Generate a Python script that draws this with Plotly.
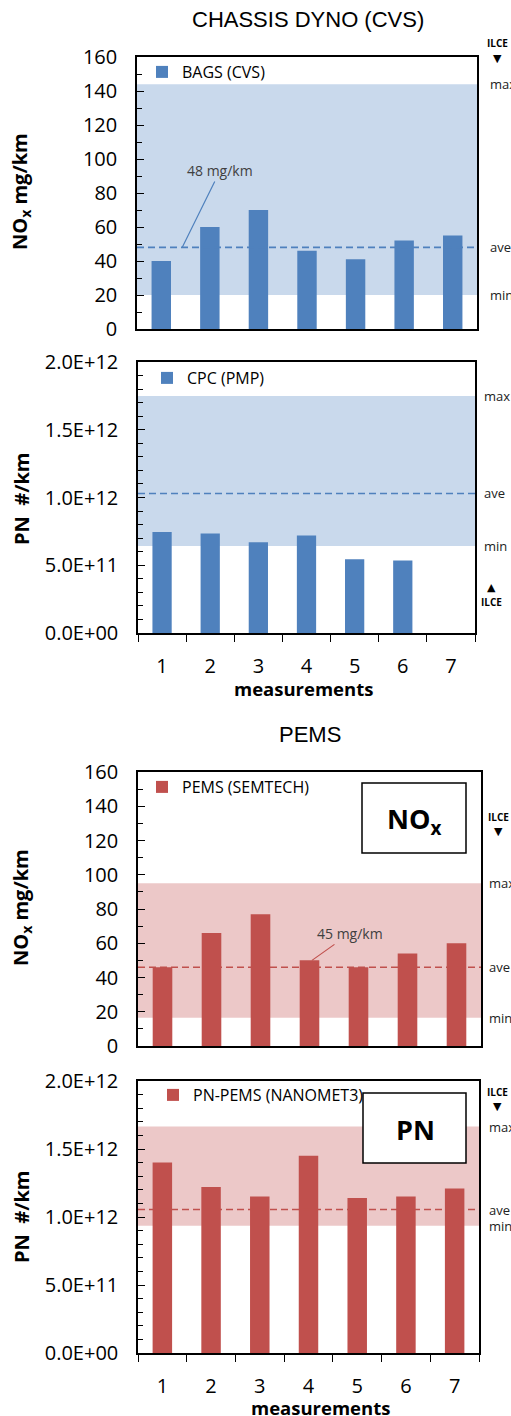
import plotly.graph_objects as go

W, H = 511, 1416

measurements = [1, 2, 3, 4, 5, 6, 7]
x_labels = ["1", "2", "3", "4", "5", "6", "7"]

nox_cvs = [40, 60, 70, 46, 41, 52, 55]
pn_cvs = [7.45e11, 7.35e11, 6.7e11, 7.2e11, 5.45e11, 5.35e11, None]
nox_pems = [46, 66, 77, 50, 46, 54, 60]
pn_pems = [1.40e12, 1.22e12, 1.15e12, 1.45e12, 1.14e12, 1.15e12, 1.21e12]

# ILCE range (min, ave, max)
nox_cvs_band = [20, 48, 144]
pn_cvs_band = [6.42e11, 1.03e12, 1.75e12]
nox_pems_band = [16.5, 46, 95]
pn_pems_band = [9.35e11, 1.055e12, 1.665e12]

pn_tickvals = [0, 5e11, 1e12, 1.5e12, 2e12]
pn_ticktext = ["0.0E+00", "5.0E+11", "1.0E+12", "1.5E+12", "2.0E+12"]
nox_tickvals = [0, 20, 40, 60, 80, 100, 120, 140, 160]

blue_bar = "#4F81BD"
blue_band = "#C9D9EC"
red_bar = "#C0504D"
red_band = "#ECC8C8"
FONT = "Open Sans"

def px(v):
    return v / W

def py(v):
    return 1 - v / H

# plot areas in pixels: (x0, x1, ytop, ybottom)
areas = [
    (137, 477, 57, 329),
    (138, 475, 362, 633),
    (138, 481, 772, 1046),
    (138, 479, 1081, 1353),
]

fig = go.Figure()

series = [
    (nox_cvs, "BAGS (CVS)", blue_bar),
    (pn_cvs, "CPC (PMP)", blue_bar),
    (nox_pems, "PEMS (SEMTECH)", red_bar),
    (pn_pems, "PN-PEMS (NANOMET3)", red_bar),
]
legend_pos = [(166, 72), (171, 378), (166, 787), (177, 1095)]

for i, (vals, name, col) in enumerate(series):
    n = "" if i == 0 else str(i + 1)
    fig.add_trace(go.Bar(
        x=measurements, y=vals, name=name, marker=dict(color=col, line=dict(width=0)),
        xaxis="x" + n, yaxis="y" + n, legend="legend" + n, showlegend=True,
    ))

layout = dict(
    width=W, height=H, margin=dict(l=0, r=0, t=0, b=0, autoexpand=False),
    paper_bgcolor="white", plot_bgcolor="rgba(0,0,0,0)",
    bargap=0.6, font=dict(family=FONT, color="black"),
)

ranges = [[0, 160], [0, 2e12], [0, 160], [0, 2e12]]
for i, (x0, x1, yt, yb) in enumerate(areas):
    n = "" if i == 0 else str(i + 1)
    show_x = i in (1, 3)
    xa = dict(
        domain=[px(x0), px(x1)], anchor="y" + n, range=[0.5, 7.5],
        tickmode="array", tickvals=measurements,
        ticktext=x_labels if show_x else [""] * 7,
        showticklabels=show_x, ticks="", showgrid=False, zeroline=False,
        showline=True, mirror=True, linecolor="black", linewidth=1.5,
        tickfont=dict(size=20, family=FONT), ticklabelstandoff=14,
    )
    if show_x:
        xa["minor"] = dict(tickmode="array", tickvals=[0.5 + k for k in range(8)],
                           ticks="outside", ticklen=7, tickcolor="black", tickwidth=1.2)
    layout["xaxis" + n] = xa
    if i in (0, 2):
        ya = dict(tickmode="array", tickvals=nox_tickvals,
                  minor=dict(dtick=10, ticks="inside", ticklen=5, tickcolor="black", tickwidth=1))
    else:
        ya = dict(tickmode="array", tickvals=pn_tickvals, ticktext=pn_ticktext,
                  minor=dict(dtick=1e11, ticks="inside", ticklen=5, tickcolor="black", tickwidth=1))
    ya.update(dict(
        domain=[py(yb), py(yt)], anchor="x" + n, range=ranges[i],
        ticks="inside", ticklen=7, tickcolor="black", tickwidth=1,
        showgrid=False, zeroline=False, showline=True, mirror=True,
        linecolor="black", linewidth=1.5, tickfont=dict(size=20, family=FONT),
        ticklabelstandoff=14,
    ))
    layout["yaxis" + n] = ya
    lx, ly = legend_pos[i]
    layout["legend" + n] = dict(
        x=px(lx - 24), y=py(ly), xanchor="left", yanchor="middle",
        bgcolor="rgba(0,0,0,0)", font=dict(size=16, family=FONT),
    )

fig.update_layout(**layout)

bands = [nox_cvs_band, pn_cvs_band, nox_pems_band, pn_pems_band]
band_cols = [blue_band, blue_band, red_band, red_band]
line_cols = [blue_bar, blue_bar, red_bar, red_bar]
shapes = []
for i, b in enumerate(bands):
    n = "" if i == 0 else str(i + 1)
    shapes.append(dict(type="rect", xref="x" + n + " domain", yref="y" + n,
                       x0=0, x1=1, y0=b[0], y1=b[2], fillcolor=band_cols[i],
                       line=dict(width=0), layer="below"))
    shapes.append(dict(type="line", xref="x" + n + " domain", yref="y" + n,
                       x0=0, x1=1, y0=b[1], y1=b[1],
                       line=dict(color=line_cols[i], width=1.6, dash="7px,4px"), layer="above"))

# NOx / PN boxes
shapes.append(dict(type="rect", xref="paper", yref="paper", x0=px(362), x1=px(466),
                   y0=py(853), y1=py(783), fillcolor="white", line=dict(color="black", width=1.5)))
shapes.append(dict(type="rect", xref="paper", yref="paper", x0=px(363), x1=px(466),
                   y0=py(1163), y1=py(1093), fillcolor="white", line=dict(color="black", width=1.5)))
fig.update_layout(shapes=shapes)

ann = []
def a(text, x, y, size=13, bold=False, xanchor="center", yref="paper", family=FONT, angle=0, color="#222"):
    ann.append(dict(text=("<b>%s</b>" % text) if bold else text, x=x, y=y, xref="paper", yref=yref,
                    xanchor=xanchor, yanchor="middle", showarrow=False, textangle=angle,
                    font=dict(size=size, family=family, color=color)))

# titles
a("CHASSIS DYNO (CVS)", px(308), py(19), size=22, family="Liberation Sans", color="black")
a("PEMS", px(310), py(734), size=22, family="Liberation Sans", color="black")
# y titles
a("NO<sub>x</sub> mg/km", px(21), py(192), size=20, bold=True, angle=-90, color="black")
a("PN  #/km", px(21), py(499), size=20, bold=True, angle=-90, color="black")
a("NO<sub>x</sub> mg/km", px(21), py(908), size=20, bold=True, angle=-90, color="black")
a("PN  #/km", px(21), py(1217), size=20, bold=True, angle=-90, color="black")
# x titles
a("measurements", px(303), py(688), size=18.5, bold=True, color="black")
a("measurements", px(320), py(1407), size=18.5, bold=True, color="black")
# box labels
a("NO<sub>x</sub>", px(414), py(820), size=27, bold=True, color="black")
a("PN", px(415), py(1129), size=27, bold=True, color="black")

# right side labels
right_x = [488, 482, 487, 487]
for i, b in enumerate(bands):
    n = "" if i == 0 else str(i + 1)
    for lab, v in zip(["min", "ave", "max"], b):
        a(lab, px(right_x[i]), v, size=13, xanchor="left", yref="y" + n)

# ILCE markers
a("ILCE", px(497), py(43), size=10, bold=True, color="black")
a("▼", px(497), py(58), size=11, family="DejaVu Sans", color="black")
a("▲", px(491), py(587), size=11, family="DejaVu Sans", color="black")
a("ILCE", px(491), py(602), size=10, bold=True, color="black")
a("ILCE", px(498), py(817), size=10, bold=True, color="black")
a("▼", px(498), py(831), size=11, family="DejaVu Sans", color="black")
a("ILCE", px(497), py(1092), size=10, bold=True, color="black")
a("▼", px(497), py(1106), size=11, family="DejaVu Sans", color="black")

# average callouts
ann.append(dict(text="48 mg/km", x=1.43, y=nox_cvs_band[1], xref="x", yref="y",
                ax=38, ay=-77, showarrow=True, arrowhead=0, arrowwidth=1.2,
                arrowcolor=blue_bar, font=dict(size=14, family=FONT, color="#404040")))
ann.append(dict(text="45 mg/km", x=4.05, y=nox_pems[3], xref="x3", yref="y3",
                ax=38, ay=-27, showarrow=True, arrowhead=0, arrowwidth=1.2,
                arrowcolor=red_bar, font=dict(size=14, family=FONT, color="#404040")))

fig.update_layout(annotations=ann)
fig.write_html("out.html")
